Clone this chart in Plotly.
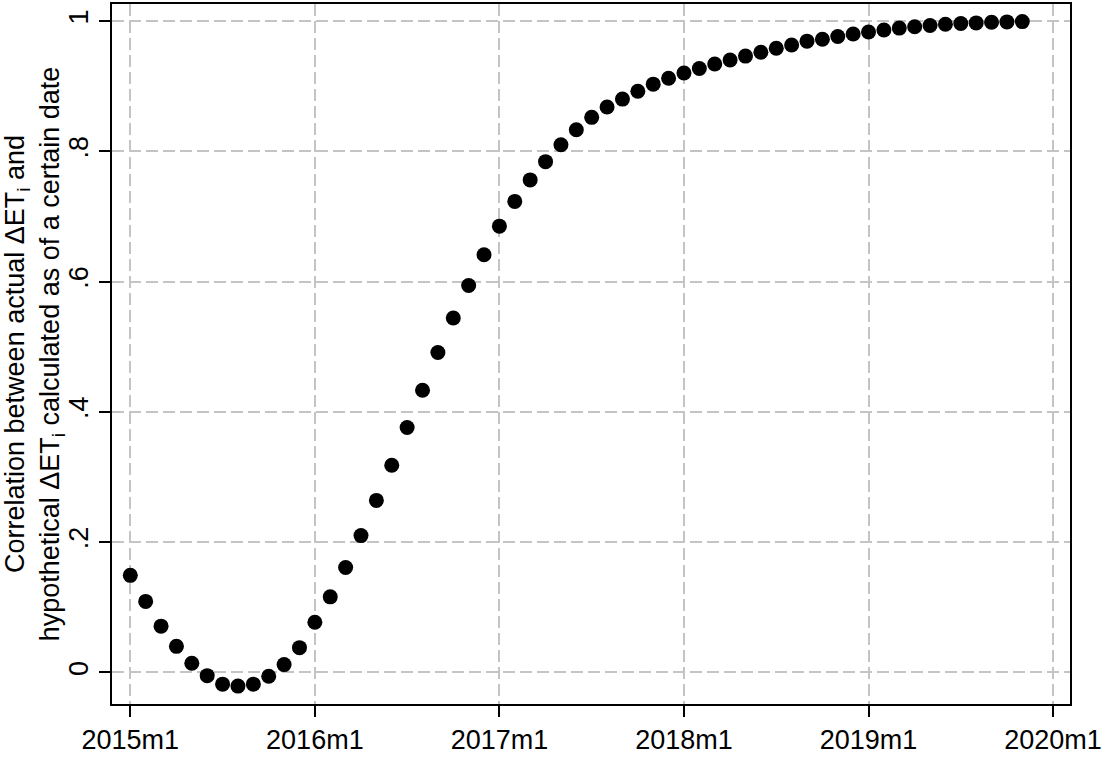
import plotly.graph_objects as go

# Monthly dates (Stata %tm style labels), 2015m1 .. 2019m11
months = [f"{y}m{m}" for y in range(2015, 2020) for m in range(1, 13)][:59]

# Correlation between actual and hypothetical ΔET_i as of each date
correlation = [
    0.149, 0.109, 0.071, 0.040, 0.014, -0.005, -0.018, -0.021, -0.018, -0.006,
    0.012, 0.038, 0.077, 0.116, 0.161, 0.210, 0.264, 0.318, 0.376, 0.433,
    0.491, 0.544, 0.594, 0.641, 0.685, 0.723, 0.756, 0.784, 0.810, 0.833,
    0.852, 0.868, 0.880, 0.892, 0.903, 0.912, 0.920, 0.927, 0.934, 0.940,
    0.946, 0.952, 0.958, 0.963, 0.969, 0.972, 0.976, 0.980, 0.983, 0.986,
    0.989, 0.991, 0.993, 0.995, 0.996, 0.997, 0.998, 0.9985, 0.999,
]

x_tick_labels = ["2015m1", "2016m1", "2017m1", "2018m1", "2019m1", "2020m1"]
y_tick_values = [0, 0.2, 0.4, 0.6, 0.8, 1.0]
y_tick_labels = ["0", ".2", ".4", ".6", ".8", "1"]


def month_index(label):
    year, mon = label.split("m")
    return 12 * (int(year) - 2015) + int(mon) - 1


x_vals = [month_index(m) for m in months]
x_tick_vals = [month_index(t) for t in x_tick_labels]

FONT = "Liberation Sans, Arial, Helvetica, sans-serif"
GRID = "#c4c4c4"

fig = go.Figure(
    go.Scatter(
        x=x_vals,
        y=correlation,
        mode="markers",
        marker=dict(size=15, color="black", line=dict(width=0)),
        text=months,
        hovertemplate="%{text}: %{y:.3f}<extra></extra>",
    )
)

fig.update_layout(
    width=1104,
    height=757,
    margin=dict(l=111, r=33, t=2, b=45),
    paper_bgcolor="white",
    plot_bgcolor="white",
    showlegend=False,
    font=dict(family=FONT, size=27, color="black"),
)

fig.update_xaxes(
    range=[-1.19, 61.1],
    tickvals=x_tick_vals,
    ticktext=x_tick_labels,
    ticks="outside",
    ticklen=11,
    tickwidth=1.5,
    tickcolor="black",
    showline=True,
    linecolor="black",
    linewidth=1.5,
    mirror=True,
    showgrid=True,
    gridcolor=GRID,
    gridwidth=2,
    griddash="12px,5px",
    zeroline=False,
    tickfont=dict(size=27),
)

fig.update_yaxes(
    range=[-0.0485, 1.026],
    tickvals=y_tick_values,
    ticktext=y_tick_labels,
    tickangle=-90,
    ticks="outside",
    ticklen=11,
    tickwidth=1.5,
    tickcolor="black",
    showline=True,
    linecolor="black",
    linewidth=1.5,
    mirror=True,
    showgrid=True,
    gridcolor=GRID,
    gridwidth=2,
    griddash="12px,5px",
    zeroline=False,
    tickfont=dict(size=27),
    title=dict(
        text="Correlation between actual ΔET<sub>i</sub> and<br>"
             "hypothetical ΔET<sub>i</sub> calculated as of a certain date",
        font=dict(size=27),
        standoff=8,
    ),
)

fig.write_html("out.html")
